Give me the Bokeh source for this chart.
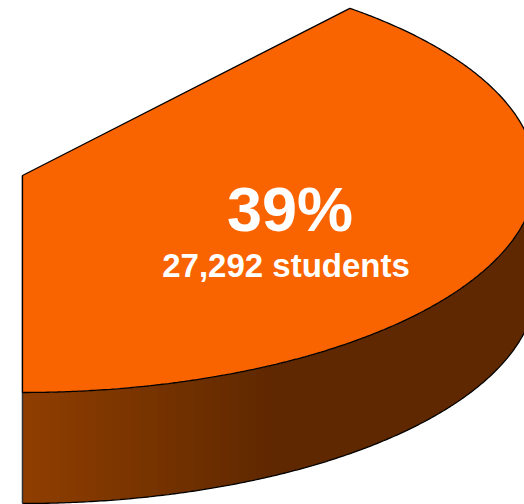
import numpy as np
from bokeh.core.properties import value
from bokeh.embed import file_html
from bokeh.models import ColumnDataSource, Range1d
from bokeh.plotting import figure
from bokeh.resources import INLINE

# Slice of the enrolment pie
share_labels = ["39%"]
share_values = [39.0]
student_labels = ["27,292 students"]

WIDTH, HEIGHT = 524, 504
CX, CY = 22.0, 175.0      # pie centre on the top face
RX, RY = 513.5, 217.0     # radii of the tilted top face
DEPTH = 111.0             # height of the extruded wall
FACE = "#F96300"
WALL_LIGHT = np.array([143, 62, 0])
WALL_DARK = np.array([95, 40, 0])
WALL_FADE_END = 270.0
STRIP = 9.0

p = figure(
    width=WIDTH, height=HEIGHT, output_backend="svg", toolbar_location=None,
    x_range=Range1d(0, WIDTH), y_range=Range1d(HEIGHT, 0),
    min_border=0, outline_line_color=None, background_fill_color="white",
    border_fill_color="white",
)
p.axis.visible = False
p.grid.visible = False

# The slice starts at the bottom of the pie and sweeps counter-clockwise on screen
sweep = np.deg2rad(share_values[0] / 100.0 * 360.0)
theta = np.linspace(0.0, sweep, 400)
arc_x = CX + RX * np.sin(theta)
arc_y = CY + RY * np.cos(theta)

# Wall: narrow vertical strips running from the lit edge into shadow
lower = theta <= np.pi / 2 + 0.001
rim_x, rim_y = arc_x[lower], arc_y[lower]
edges = np.arange(CX, rim_x.max() + STRIP, STRIP)
xs, ys, colors = [], [], []
for left, right in zip(edges[:-1], edges[1:]):
    sx = np.linspace(left, min(right + 0.6, rim_x.max()), 8)
    sy = np.interp(sx, rim_x, rim_y)
    xs.append(np.concatenate([sx, sx[::-1]]).tolist())
    ys.append(np.concatenate([sy, sy[::-1] + DEPTH]).tolist())
    t = min((left - CX) / (WALL_FADE_END - CX), 1.0)
    r, g, b = (WALL_LIGHT + (WALL_DARK - WALL_LIGHT) * t).round().astype(int)
    colors.append(f"#{r:02X}{g:02X}{b:02X}")
p.patches(xs, ys, fill_color=colors, line_color=None)

# Wall outline along the bottom and the left edge
p.line(rim_x, rim_y + DEPTH, line_color="black", line_width=1.3)
p.line([CX, CX], [CY, rim_y[0] + DEPTH], line_color="#333333", line_width=1.5)

# Top face
face_x = np.concatenate([[CX], arc_x, [CX]])
face_y = np.concatenate([[CY], arc_y, [CY]])
p.patch(face_x, face_y, fill_color=FACE, line_color="black", line_width=1.3)

# Labels centred on the slice
labels = ColumnDataSource(dict(
    x=[289.5, 285.5], y=[208.0, 265.0],
    text=[share_labels[0], student_labels[0]],
    size=["63px", "33px"],
))
p.text(
    x="x", y="y", text="text", source=labels, text_color="white",
    text_font=value("Liberation Sans"), text_font_style="bold",
    text_font_size="size", text_align="center", text_baseline="alphabetic",
)

open("out.html", "w").write(file_html(p, INLINE))
